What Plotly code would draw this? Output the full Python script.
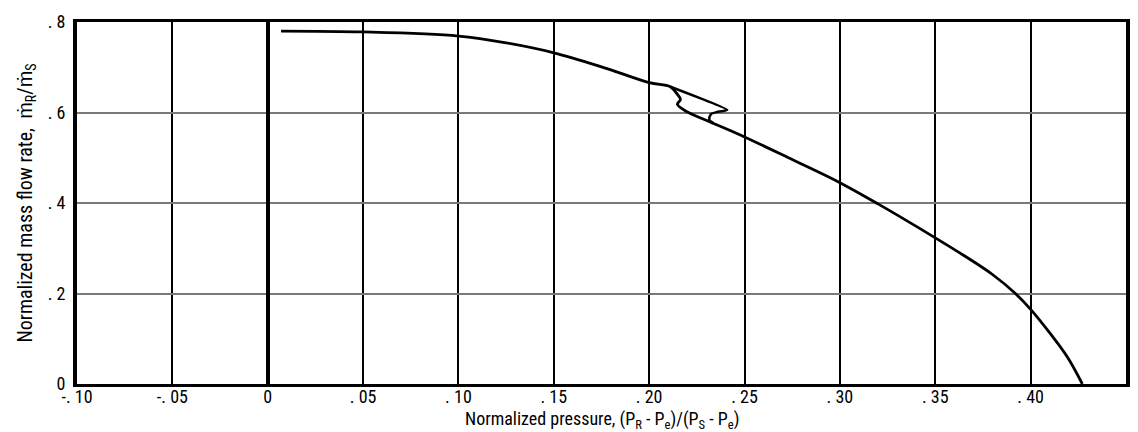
import plotly.graph_objects as go

# Main curve: upper branch -> wiggle -> lower branch down to zero flow
main_x = [0.007, 0.05, 0.10, 0.125, 0.15, 0.175, 0.20, 0.2111,
          0.2148, 0.2164, 0.2148, 0.2201, 0.232, 0.25, 0.275, 0.30, 0.32,
          0.35, 0.365, 0.38, 0.392, 0.40, 0.41, 0.4195, 0.4271]
main_y = [0.780, 0.778, 0.769, 0.754, 0.732, 0.701, 0.666, 0.657,
          0.640, 0.629, 0.618, 0.601, 0.579, 0.546, 0.496, 0.445, 0.398,
          0.323, 0.284, 0.242, 0.200, 0.165, 0.113, 0.058, 0.0]

# Loop branch: from junction out to the tip, back, and wiggling down to the lower branch
loop_x = [0.2111, 0.2409, 0.2355, 0.2325, 0.2315, 0.2318, 0.2335]
loop_y = [0.657, 0.606, 0.601, 0.597, 0.588, 0.582, 0.577]

x_ticks = [-0.10, -0.05, 0, 0.05, 0.10, 0.15, 0.20, 0.25, 0.30, 0.35, 0.40, 0.45]
x_labels = ["-. 10", "-. 05", "0", ". 05", ". 10", ". 15", ". 20", ". 25", ". 30", ". 35", ". 40", ". 45"]
y_ticks = [0, 0.2, 0.4, 0.6, 0.8]
y_labels = ["0", ". 2", ". 4", ". 6", ". 8"]

FONT = "Liberation Sans Narrow, Roboto Condensed, Arial Narrow, Liberation Sans, sans-serif"

fig = go.Figure()
fig.add_trace(go.Scatter(x=main_x, y=main_y, mode="lines",
                         line=dict(color="black", width=2.8, shape="spline", smoothing=1.0),
                         showlegend=False, hoverinfo="skip"))
fig.add_trace(go.Scatter(x=loop_x, y=loop_y, mode="lines",
                         line=dict(color="black", width=2.5, shape="spline", smoothing=0.4),
                         showlegend=False, hoverinfo="skip"))

fig.update_layout(
    width=1138, height=432,
    margin=dict(l=77, r=8, t=22, b=48),
    paper_bgcolor="white", plot_bgcolor="white",
    font=dict(family=FONT, size=18, color="black"),
    xaxis=dict(range=[-0.10, 0.45], tickvals=x_ticks, ticktext=x_labels,
               showgrid=True, gridcolor="black", gridwidth=2,
               zeroline=True, zerolinecolor="black", zerolinewidth=4,
               showline=True, linecolor="black", linewidth=2.5, mirror=True,
               ticks="", ticklabelstandoff=-5, tickfont=dict(size=18)),
    yaxis=dict(range=[0, 0.8], tickvals=y_ticks, ticktext=y_labels,
               showgrid=True, gridcolor="#7a7a7a", gridwidth=1.5,
               zeroline=False,
               showline=True, linecolor="black", linewidth=4, mirror=True,
               ticks="", ticklabelstandoff=4, tickfont=dict(size=18)),
)

fig.add_annotation(text="Normalized pressure, (P<sub>R</sub> - P<sub>e</sub>)/(P<sub>S</sub> - P<sub>e</sub>)",
                   xref="paper", yref="paper", x=0.5, y=-0.062, xanchor="center", yanchor="top",
                   showarrow=False, font=dict(family=FONT, size=18))
fig.add_annotation(text="Normalized mass flow rate,  ṁ<sub>R</sub>/ṁ<sub>S</sub>",
                   xref="paper", yref="paper", x=-0.049, y=0.5, xanchor="center", yanchor="middle",
                   textangle=-90, showarrow=False, font=dict(family=FONT, size=20))

fig.write_html("out.html")
